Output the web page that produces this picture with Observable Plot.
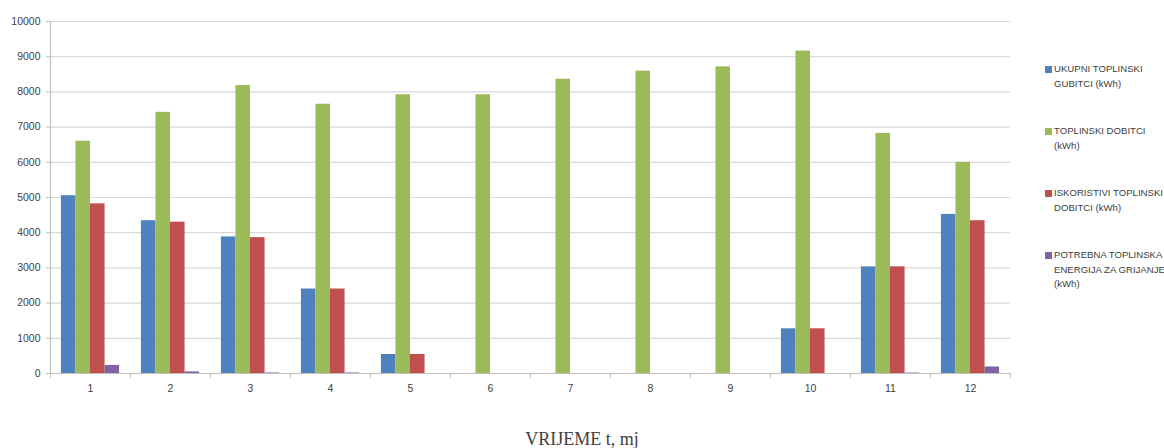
<!DOCTYPE html>
<html><head><meta charset="utf-8">
<script src="https://cdn.jsdelivr.net/npm/d3@7"></script>
<script src="https://cdn.jsdelivr.net/npm/@observablehq/plot@0.6"></script>
<style>
body{margin:0;background:#fff;}
#wrap{position:relative;width:1164px;height:448px;overflow:hidden;font-family:"Liberation Sans",Arial,sans-serif;}
#wrap svg{position:absolute;left:0;top:0;}
.leg{position:absolute;left:1054px;font-size:9.6px;line-height:14.5px;color:#404040;white-space:nowrap;}
.leg i{position:absolute;left:-9px;top:4px;width:7px;height:7px;}
#xt{position:absolute;left:0;width:1164px;top:429px;text-align:center;font-family:"Liberation Serif","Times New Roman",serif;font-size:18px;color:#404040;}
</style></head><body><div id="wrap"></div>
<script>
const months = [1,2,3,4,5,6,7,8,9,10,11,12];
const seriesNames = [
  "UKUPNI TOPLINSKI GUBITCI (kWh)",
  "TOPLINSKI DOBITCI (kWh)",
  "ISKORISTIVI TOPLINSKI DOBITCI (kWh)",
  "POTREBNA TOPLINSKA ENERGIJA ZA GRIJANJE (kWh)"
];
const legendLines = [
  ["UKUPNI TOPLINSKI", "GUBITCI (kWh)"],
  ["TOPLINSKI DOBITCI", "(kWh)"],
  ["ISKORISTIVI TOPLINSKI", "DOBITCI (kWh)"],
  ["POTREBNA TOPLINSKA", "ENERGIJA ZA GRIJANJE", "(kWh)"]
];
const colors = ["#4F81BD", "#9BBB59", "#C0504D", "#8064A2"];
const gubitci    = [5050, 4340, 3880, 2400, 540, 0, 0, 0, 0, 1270, 3030, 4520];
const dobitci    = [6600, 7420, 8180, 7650, 7920, 7920, 8360, 8590, 8710, 9160, 6820, 6000];
const iskoristivi= [4820, 4300, 3860, 2400, 540, 0, 0, 0, 0, 1270, 3030, 4340];
const potrebna   = [230, 45, 15, 15, 0, 0, 0, 0, 0, 0, 12, 185];
const yTicks = [0, 1000, 2000, 3000, 4000, 5000, 6000, 7000, 8000, 9000, 10000];
const xTitle = "VRIJEME t, mj";

const seriesValues = [gubitci, dobitci, iskoristivi, potrebna];
// Excel-style clustered layout: gap width 150%
const slots = seriesNames.length + 1.5;
const data = [];
seriesValues.forEach((vals, i) => {
  vals.forEach((v, j) => {
    const start = months[j] - 0.5 + (0.75 + i) / slots;
    data.push({month: months[j], series: seriesNames[i], value: v, x1: start, x2: start + 1 / slots});
  });
});
const boundaries = months.map(m => m - 0.5).concat([months[months.length - 1] + 0.5]);

const chart = Plot.plot({
  width: 1164,
  height: 448,
  marginLeft: 50,
  marginRight: 154,
  marginTop: 21,
  marginBottom: 75,
  style: {fontFamily: "'Liberation Sans', Arial, sans-serif", fontSize: "10.5px", color: "#404040", background: "transparent"},
  x: {type: "linear", domain: [boundaries[0], boundaries[boundaries.length - 1]], axis: null},
  y: {domain: [0, 10000], axis: null},
  color: {domain: seriesNames, range: colors},
  marks: [
    Plot.gridY(yTicks, {stroke: "#d9d9d9", strokeOpacity: 1, strokeWidth: 1.2}),
    Plot.rectY(data, {x1: "x1", x2: "x2", y1: 0, y2: "value", fill: "series"}),
    Plot.ruleY([0], {stroke: "#bfbfbf", strokeWidth: 1.2}),
    Plot.ruleX([boundaries[0]], {stroke: "#bfbfbf", strokeWidth: 1.2}),
    Plot.axisY(yTicks, {tickSize: 4, tickPadding: 6, stroke: "#bfbfbf", fill: "#404040", label: null, tickFormat: d => String(d)}),
    Plot.axisX(boundaries, {tickSize: 5, tickFormat: () => "", label: null, stroke: "#bfbfbf"}),
    Plot.axisX(months, {tickSize: 0, tickPadding: 11, fill: "#404040", label: null, tickFormat: d => String(d)})
  ]
});
const wrap = document.getElementById("wrap");
wrap.appendChild(chart);

const legTops = [62, 124, 186, 248];
legendLines.forEach((lines, i) => {
  const div = document.createElement("div");
  div.className = "leg";
  div.style.top = legTops[i] + "px";
  div.innerHTML = `<i style="background:${colors[i]}"></i>` + lines.join("<br>");
  wrap.appendChild(div);
});
const xt = document.createElement("div");
xt.id = "xt";
xt.textContent = xTitle;
wrap.appendChild(xt);
</script></body></html>
